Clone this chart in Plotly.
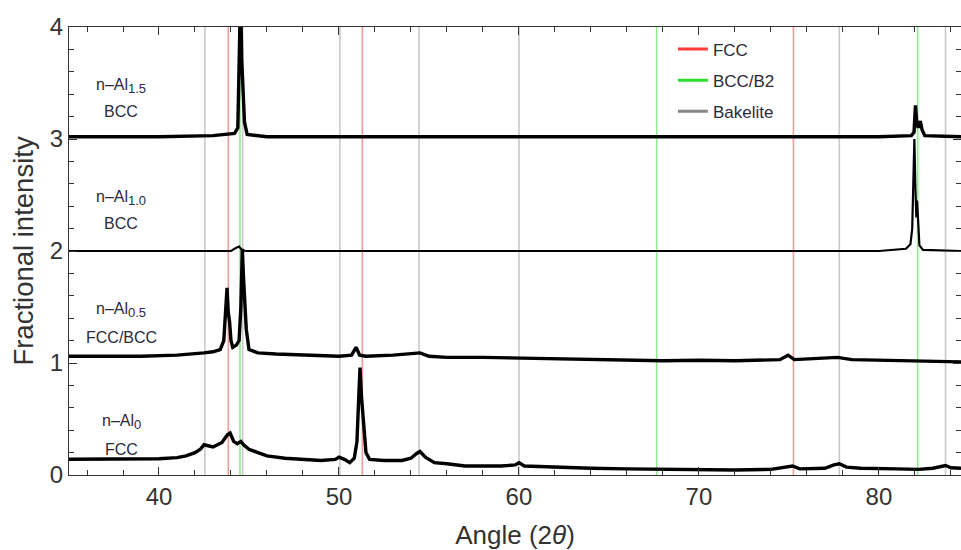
import plotly.graph_objects as go

# ---------------- data ----------------
x_al0 = [35, 37, 39, 40, 41, 41.5, 42.0, 42.3, 42.5, 42.7, 43.0, 43.5, 43.8, 43.95, 44.15, 44.35,
         44.55, 44.7, 45.0, 45.5, 46.0, 47.0, 48.0, 49.0, 49.8, 50.0, 50.3, 50.6, 50.85, 51.0,
         51.1, 51.17, 51.25, 51.32, 51.4, 51.5, 51.7, 52.5, 53.5, 54.0, 54.3, 54.5, 54.8, 55.3,
         56, 57, 58, 59, 59.8, 60.0, 60.3, 62, 64, 66, 68, 70, 72, 74, 75.2, 75.6, 77.0, 77.5,
         77.8, 78.2, 79, 81, 82.2, 83.0, 83.7, 84.0, 84.56]
y_al0 = [0.14, 0.14, 0.145, 0.145, 0.155, 0.17, 0.2, 0.23, 0.27, 0.26, 0.25, 0.29, 0.36, 0.375, 0.3, 0.28,
         0.3, 0.27, 0.23, 0.2, 0.17, 0.15, 0.14, 0.13, 0.14, 0.16, 0.14, 0.11, 0.15, 0.3,
         0.7, 0.96, 0.7, 0.56, 0.35, 0.2, 0.14, 0.13, 0.13, 0.15, 0.19, 0.21, 0.16, 0.11,
         0.1, 0.08, 0.08, 0.08, 0.09, 0.11, 0.08, 0.07, 0.06, 0.055, 0.05, 0.05, 0.045, 0.05, 0.08, 0.055, 0.06, 0.09,
         0.1, 0.07, 0.06, 0.055, 0.05, 0.06, 0.085, 0.065, 0.06]

x_al05 = [35, 37, 39, 41, 42, 42.5, 43.0, 43.4, 43.6, 43.72, 43.78, 43.85, 43.92, 44.0, 44.1, 44.3,
          44.45, 44.55, 44.63, 44.7, 44.77, 44.85, 45.0, 45.5, 46.5, 48, 50, 50.7, 50.95, 51.15,
          51.5, 53, 54.0, 54.5, 55.0, 56, 58, 60, 62, 64, 66, 68, 70, 72, 74.5, 74.95, 75.3,
          77.0, 77.7, 78.5, 80, 82, 84.56]
y_al05 = [1.06, 1.06, 1.06, 1.07, 1.08, 1.09, 1.1, 1.12, 1.2, 1.55, 1.67, 1.45, 1.37, 1.2, 1.14, 1.16,
          1.2, 1.5, 2.02, 1.75, 1.59, 1.3, 1.12, 1.09, 1.08, 1.07, 1.06, 1.07, 1.14, 1.07,
          1.06, 1.07, 1.08, 1.09, 1.06, 1.05, 1.05, 1.045, 1.04, 1.03, 1.03, 1.02, 1.025, 1.02, 1.03, 1.07, 1.03,
          1.04, 1.05, 1.03, 1.025, 1.02, 1.01]

x_al10 = [35, 44.0, 44.3, 44.45, 44.6, 44.8, 60, 80, 81.5, 81.75, 81.85, 81.92, 81.97, 82.02,
          82.08, 82.12, 82.18, 82.25, 82.45, 84.56]
y_al10 = [2.0, 2.0, 2.03, 2.04, 2.01, 2.0, 2.0, 2.0, 2.02, 2.06, 2.2, 2.8, 3.0, 2.6,
          2.3, 2.45, 2.2, 2.05, 2.01, 2.0]

x_al15 = [35, 40, 43, 44.2, 44.38, 44.47, 44.53, 44.6, 44.67, 44.75, 44.9, 46, 50, 55, 60, 70, 80,
          81.8, 81.95, 82.03, 82.1, 82.18, 82.3, 82.4, 82.55, 84.56]
y_al15 = [3.02, 3.02, 3.03, 3.05, 3.1, 3.6, 4.3, 3.7, 3.42, 3.15, 3.04, 3.02, 3.02, 3.02, 3.02, 3.02, 3.02,
          3.03, 3.06, 3.3, 3.15, 3.1, 3.16, 3.08, 3.03, 3.02]

fcc_lines = [43.85, 51.3, 75.25]
bcc_lines = [44.5, 67.65, 82.15]
bakelite_lines = [42.55, 44.65, 50.05, 54.45, 60.0, 77.8, 83.7]

sample_names = ["n–Al", "n–Al", "n–Al", "n–Al"]
sample_subs = ["0", "0.5", "1.0", "1.5"]
sample_phases = ["FCC", "FCC/BCC", "BCC", "BCC"]
name_y = [0.47, 1.47, 2.47, 3.47]
phase_y = [0.23, 1.23, 2.25, 3.25]
label_x = 37.9

x_range = [35, 84.56]
y_range = [0, 4]

FONT = "Liberation Sans, Arial, sans-serif"
TXT = "#2a2a3a"

fig = go.Figure()


def vlines(xs, color, width):
    xx, yy = [], []
    for v in xs:
        xx += [v, v, None]
        yy += [y_range[0], y_range[1], None]
    return go.Scatter(x=xx, y=yy, mode="lines", line=dict(color=color, width=width),
                      showlegend=False, hoverinfo="skip")


fig.add_trace(vlines(bakelite_lines, "#c9c9c9", 1.6))
fig.add_trace(vlines(fcc_lines, "#f39a9a", 1.6))
fig.add_trace(vlines(bcc_lines, "#90ea90", 1.6))

for xs, ys, w in [(x_al0, y_al0, 3.4), (x_al05, y_al05, 3.4), (x_al10, y_al10, 2.2), (x_al15, y_al15, 3.4)]:
    fig.add_trace(go.Scatter(x=xs, y=ys, mode="lines", line=dict(color="black", width=w),
                             showlegend=False))

# legend entries
for name, col in [("FCC", "#ff3b3b"), ("BCC/B2", "#2fdc2f"), ("Bakelite", "#888888")]:
    fig.add_trace(go.Scatter(x=[None], y=[None], mode="lines", name=name, legendgroup=name,
                             line=dict(color=col, width=3)))

for nm, sb, ph, ny, py in zip(sample_names, sample_subs, sample_phases, name_y, phase_y):
    fig.add_annotation(x=label_x, y=ny, text=nm + "<sub><span style='font-size:13px'>" + sb + "</span></sub>",
                       showarrow=False, xanchor="center",
                       font=dict(family=FONT, size=16, color=TXT))
    fig.add_annotation(x=label_x, y=py, text=ph, showarrow=False, xanchor="center",
                       font=dict(family=FONT, size=16, color=TXT))

axis_common = dict(showline=True, linecolor="#333333", linewidth=1, mirror="ticks",
                   ticks="inside", tickcolor="#333333", tickwidth=1.4, showgrid=False, zeroline=False,
                   tickfont=dict(family=FONT, size=24, color="#333333"))

fig.update_xaxes(range=x_range, tickvals=[40, 50, 60, 70, 80], ticklen=8,
                 minor=dict(dtick=2, ticks="inside", ticklen=5, tickcolor="#333333", tickwidth=1.2),
                 title=dict(text="Angle (2<i>θ</i>)", font=dict(family=FONT, size=26, color="#333333"),
                            standoff=19),
                 **axis_common)
fig.update_yaxes(range=y_range, tickvals=[0, 1, 2, 3, 4], ticklen=8,
                 minor=dict(dtick=0.2, ticks="inside", ticklen=5, tickcolor="#333333", tickwidth=1.2),
                 title=dict(text="Fractional intensity", font=dict(family=FONT, size=27.5, color="#333333"),
                            standoff=8),
                 **axis_common)

fig.update_layout(
    width=961, height=550,
    margin=dict(l=69, r=0, t=27, b=75, autoexpand=False),
    plot_bgcolor="white", paper_bgcolor="white",
    legend=dict(x=0.677, y=0.99, xanchor="left", yanchor="top", bgcolor="rgba(0,0,0,0)",
                font=dict(family=FONT, size=17, color=TXT), tracegroupgap=6,
                itemwidth=30),
)

fig.write_html("out.html", config={"displayModeBar": False},
               post_script="document.body.style.margin='0px';")
